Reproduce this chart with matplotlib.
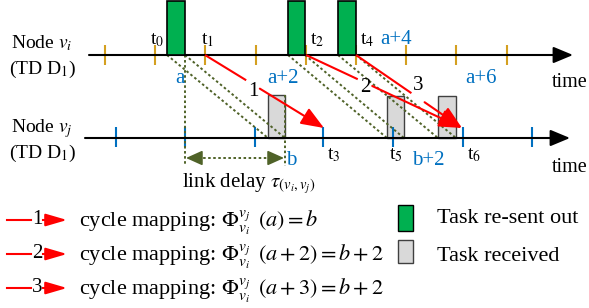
import matplotlib
matplotlib.use('Agg')
import matplotlib.pyplot as plt
from matplotlib.patches import ArrowStyle
import numpy as np

plt.rcParams['font.family'] = ['Liberation Serif', 'DejaVu Serif']
plt.rcParams['mathtext.fontset'] = 'stix'

# ---------------- data ----------------
top_cycle_ticks = [105, 155, 205, 256, 306, 356, 406, 456, 507]
bottom_cycle_ticks = [116, 185, 255, 323, 393, 463, 532]
sent_start = [167, 288, 338]
sent_end = [185, 305, 356]
sent_top = [1, 1, 1]
recv_start = [268, 387, 438]
recv_end = [285, 404, 456]
recv_top = [95, 96, 96]
map_from = [205, 306, 356]
map_to = [324, 462, 462]
map_labels = ['1', '2', '3']
map_label_x = [253, 365, 418]
map_label_y = [92, 88, 86]
top_time_labels = ['t$_0$', 't$_1$', 't$_2$', 't$_4$']
top_time_x = [157, 208, 317, 367]
top_cycle_labels = ['a', 'a+2', 'a+4', 'a+6']
top_cycle_x = [180, 283, 396, 481]
top_cycle_base = [83, 83, 44, 83]
bot_time_labels = ['t$_3$', 't$_5$', 't$_6$']
bot_time_x = [334, 396, 474]
bot_cycle_labels = ['b', 'b+2']
bot_cycle_x = [291, 428]
legend_nums = ['1', '2', '3']
legend_eqs = [r'cycle mapping: $\Phi_{v_i}^{v_j}\ \,\left(a\right)=b$',
              r'cycle mapping: $\Phi_{v_i}^{v_j}\ \,\left(a+2\right)=b+2$',
              r'cycle mapping: $\Phi_{v_i}^{v_j}\ \,\left(a+3\right)=b+2$']
legend_y = [220, 254, 288]

Y_TOP = 55
Y_BOT = 138
ORANGE = '#D4A020'
BLUE = '#0070C0'
GREEN = '#00B050'
GRAY = '#D9D9D9'
OLIVE = '#4F6228'
RED = '#FF0000'

fig = plt.figure(figsize=(5.89, 3.08), dpi=100)
ax = fig.add_axes([0, 0, 1, 1])
ax.set_xlim(0, 589)
ax.set_ylim(308, 0)
ax.axis('off')

def arrow(ax, p0, p1, color, lw, hl, hw, ms=1, z=5):
    ax.annotate('', xy=p1, xytext=p0,
                arrowprops=dict(arrowstyle=ArrowStyle('-|>', head_length=hl, head_width=hw),
                                mutation_scale=ms, color=color, lw=lw,
                                shrinkA=0, shrinkB=0), zorder=z)

# axes lines
arrow(ax, (89, Y_TOP), (573, Y_TOP), 'black', 1.5, 12, 5, z=4)
arrow(ax, (85, Y_BOT), (570, Y_BOT), 'black', 1.5, 12, 5, z=4)

# ticks
ax.vlines(top_cycle_ticks, Y_TOP - 10, Y_TOP + 10, color=ORANGE, lw=1.5, zorder=3)
ax.vlines(bottom_cycle_ticks, Y_BOT - 11, Y_BOT + 9, color=BLUE, lw=1.5, zorder=3)

# bars
ax.bar(sent_start, [Y_TOP - t for t in sent_top], width=[e - s for s, e in zip(sent_start, sent_end)],
       bottom=sent_top, align='edge', color=GREEN, edgecolor='black', lw=1.2, zorder=4)
ax.bar(recv_start, [Y_BOT - t for t in recv_top], width=[e - s for s, e in zip(recv_start, recv_end)],
       bottom=recv_top, align='edge', color=GRAY, edgecolor='#404040', lw=1.0, zorder=2)

# dotted propagation lines
dot = dict(color=OLIVE, lw=1.4, linestyle=(0, (1.3, 1.3)), zorder=3)
for s0, e0, s1, e1 in zip(sent_start, sent_end, recv_start, recv_end):
    ax.plot([s0, s1], [Y_TOP, Y_BOT], **dot)
    ax.plot([e0, e1], [Y_TOP, Y_BOT], **dot)
ax.plot([sent_end[0], sent_end[0]], [Y_TOP, 166], **dot)
ax.plot([recv_end[0], recv_end[0]], [recv_top[0], 166], **dot)

# link delay arrow
yl = 158
ax.plot([sent_end[0] + 8, recv_end[0] - 8], [yl, yl], **dot)
arrow(ax, (sent_end[0] + 14, yl), (sent_end[0] + 1, yl), OLIVE, 1.2, 10, 4.5, z=4)
arrow(ax, (recv_end[0] - 14, yl), (recv_end[0] - 1, yl), OLIVE, 1.2, 10, 4.5, z=4)
ax.text(182, 187, r'link delay $\tau_{\left(v_i,v_j\right)}$', fontsize=15, va='baseline', ha='left')

# red mapping arrows
for x0, x1, lab, lx, ly in zip(map_from, map_to, map_labels, map_label_x, map_label_y):
    p0 = np.array([x0, Y_TOP], float)
    p1 = np.array([x1, Y_BOT - 10], float)
    u = (p1 - p0) / np.linalg.norm(p1 - p0)
    tt = (lx - x0) / (x1 - x0)
    pm = p0 + tt * (p1 - p0)
    g = 8
    a = pm - g * u
    b = pm + g * u
    ax.plot([p0[0], a[0]], [p0[1], a[1]], color=RED, lw=1.5, zorder=6, solid_capstyle='butt')
    arrow(ax, tuple(b), tuple(p1), RED, 1.5, 14, 5.5, z=6)
    ax.text(lx, ly, lab, fontsize=15, ha='center', va='center', zorder=7)

# labels
for s, x in zip(top_time_labels, top_time_x):
    ax.text(x, 44, s, fontsize=14, ha='center', va='baseline')
for s, x, yb in zip(top_cycle_labels, top_cycle_x, top_cycle_base):
    ax.text(x, yb, s, fontsize=15, ha='center', va='baseline', color=BLUE)
for s, x in zip(bot_time_labels, bot_time_x):
    ax.text(x, 159, s, fontsize=14, ha='center', va='baseline')
for s, x in zip(bot_cycle_labels, bot_cycle_x):
    ax.text(x, 165, s, fontsize=15, ha='center', va='baseline', color=BLUE)
ax.text(552, 87, 'time', fontsize=14.5, ha='left', va='baseline')
ax.text(552, 172, 'time', fontsize=14.5, ha='left', va='baseline')

ax.text(11, 48, r'Node $v_i$', fontsize=14, ha='left', va='baseline')
ax.text(9, 74, r'(TD D$_1$)', fontsize=14, ha='left', va='baseline')
ax.text(11, 132, r'Node $v_j$', fontsize=14, ha='left', va='baseline')
ax.text(9, 158, r'(TD D$_1$)', fontsize=14, ha='left', va='baseline')

# legend
for num, eq, y in zip(legend_nums, legend_eqs, legend_y):
    ax.plot([7, 31], [y, y], color=RED, lw=1.5)
    ax.text(37.5, y, num, fontsize=15, ha='center', va='center')
    ax.plot([43, 50], [y, y], color=RED, lw=1.5)
    arrow(ax, (47, y), (67, y), RED, 1.5, 13, 3.8)
    ax.text(79, y + 7, eq, fontsize=16, ha='left', va='baseline')

ax.bar([398], [26], width=15, bottom=205, align='edge', color=GREEN, edgecolor='black', lw=1)
ax.bar([398], [23], width=15, bottom=240, align='edge', color=GRAY, edgecolor='#404040', lw=1)
ax.text(437, 223, 'Task re-sent out', fontsize=16, ha='left', va='baseline')
ax.text(437, 261, 'Task received', fontsize=16, ha='left', va='baseline')

fig.savefig('out.png', dpi=100)
